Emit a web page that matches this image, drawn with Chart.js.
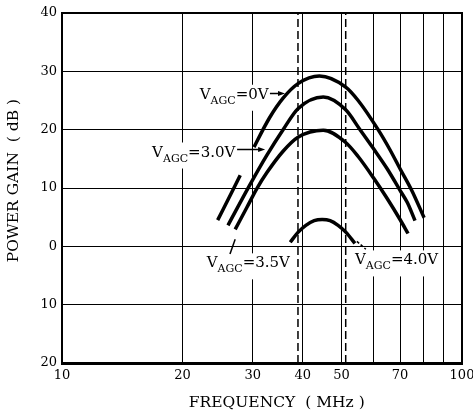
<!DOCTYPE html>
<html><head><meta charset="utf-8">
<script src="https://cdn.jsdelivr.net/npm/chart.js@4/dist/chart.umd.min.js"></script>
<style>html,body{margin:0;padding:0;background:#fff}canvas{display:block}</style>
</head><body>
<canvas id="c" width="473" height="413"></canvas>
<script>
// ---- tick values / labels ----
const xGridValues = [10, 20, 30, 40, 50, 60, 70, 80, 90, 100];
const xTickLabels = [10, 20, 30, 40, 50, 70, 100];
const yTickValues = [-20, -10, 0, 10, 20, 30, 40];
const yTickLabels = ['20', '10', '0', '10', '20', '30', '40'];

// ---- series (frequency MHz, power gain dB) ----
const seriesNames = ['0V', '3.0V', '3.5V', '4.0V'];
const freq0V  = [24.5, 26.9, 27.9, 30.2, 33.0, 35.7, 38.9, 44, 51.2, 55, 61.7, 66, 70, 75, 80.4];
const gain0V  = [4.5, 10, 12.2, 17.0, 22.0, 25.4, 27.9, 29.2, 27.3, 25.0, 20, 16.6, 13.3, 9.5, 4.9];
const freq30V = [26.0, 29.3, 32.5, 35.7, 38.9, 45, 51.2, 55.6, 60, 65, 70, 73, 76.3];
const gain30V = [3.6, 10.2, 15.6, 20.0, 23.6, 25.6, 23.4, 20.0, 16.8, 13.3, 9.6, 7.5, 4.4];
const freq35V = [27.1, 29.0, 30.7, 32.5, 35.7, 38.9, 45, 51.2, 55, 60, 65, 70, 73.3];
const gain35V = [2.9, 6.7, 9.9, 12.6, 16.3, 18.7, 19.9, 17.8, 15.4, 11.8, 8.2, 4.6, 2.2];
const freq40V = [37.2, 38.9, 40.7, 42.7, 44.7, 46.8, 49.0, 51.3, 54.0];
const gain40V = [0.7, 2.4, 3.6, 4.4, 4.6, 4.4, 3.6, 2.4, 0.5];
// dashed marker frequencies
const markerFreqs = [38.9, 51.2];
const gapAfterIndex0V = 2; // printed break in the 0V curve

const toPts = (f, g) => f.map((v, i) => ({x: v, y: g[i]}));

// ---- annotation placement (data coordinates) ----
const annotations = [
  {fx: 22.1, gy: 25.3, text: seriesNames[0], arrow: {from: 33.1, to: 36.1, gy: 26.2}},
  {fx: 16.8, gy: 15.4, text: seriesNames[1], arrow: {from: 27.4, to: 32.2, gy: 16.6}},
  {fx: 23.0, gy: -3.6, text: seriesNames[2], pointer: {x1: 26.3, y1: -1.3, x2: 27.1, y2: 1.2, dash: []}},
  {fx: 54.0, gy: -3.1, text: seriesNames[3], pointer: {x1: 54.6, y1: 0.85, x2: 57.5, y2: -0.5, dash: [3, 2]}}
];

const SERIF = '"DejaVu Serif", "Liberation Serif", serif';
const mainFont = '15px ' + SERIF;
const subFont = '11px ' + SERIF;

function labelWidth(ctx, t) {
  ctx.font = mainFont; const a = ctx.measureText('V').width + ctx.measureText('=' + t).width;
  ctx.font = subFont; return a + ctx.measureText('AGC').width;
}

const annotPlugin = {
  id: 'annot',
  beforeDraw(chart) {
    const c = chart.ctx; c.save(); c.fillStyle = '#fff'; c.fillRect(0, 0, chart.width, chart.height); c.restore();
  },
  beforeDatasetsDraw(chart) {
    const {ctx, scales: {x, y}} = chart;
    ctx.save(); ctx.fillStyle = '#fff';
    annotations.forEach(a => {
      const px = x.getPixelForValue(a.fx), py = y.getPixelForValue(a.gy);
      const w = labelWidth(ctx, a.text);
      ctx.fillRect(px - 4, py - 14, w + 8, 26);
    });
    ctx.restore();
  },
  afterDatasetsDraw(chart) {
    const {ctx, chartArea: ca, scales: {x, y}} = chart;
    ctx.save();
    ctx.strokeStyle = '#000'; ctx.lineWidth = 2;
    ctx.beginPath();
    ctx.moveTo(ca.left, ca.top); ctx.lineTo(ca.right, ca.top); ctx.lineTo(ca.right, ca.bottom);
    ctx.stroke();
    ctx.fillStyle = '#000'; ctx.textBaseline = 'alphabetic'; ctx.textAlign = 'left';
    annotations.forEach(a => {
      let px = x.getPixelForValue(a.fx); const py = y.getPixelForValue(a.gy);
      ctx.font = mainFont; ctx.fillText('V', px, py); px += ctx.measureText('V').width;
      ctx.font = subFont; ctx.fillText('AGC', px, py + 5); px += ctx.measureText('AGC').width;
      ctx.font = mainFont; ctx.fillText('=' + a.text, px, py);
      if (a.arrow) {
        const x1 = x.getPixelForValue(a.arrow.from), x2 = x.getPixelForValue(a.arrow.to), ay = y.getPixelForValue(a.arrow.gy);
        ctx.lineWidth = 1.5; ctx.beginPath(); ctx.moveTo(x1, ay); ctx.lineTo(x2 - 5, ay); ctx.stroke();
        ctx.beginPath(); ctx.moveTo(x2, ay); ctx.lineTo(x2 - 7, ay - 2.5); ctx.lineTo(x2 - 7, ay + 2.5); ctx.closePath(); ctx.fill();
      }
      if (a.pointer) {
        const p = a.pointer;
        ctx.lineWidth = 1.5; ctx.setLineDash(p.dash);
        ctx.beginPath(); ctx.moveTo(x.getPixelForValue(p.x1), y.getPixelForValue(p.y1));
        ctx.lineTo(x.getPixelForValue(p.x2), y.getPixelForValue(p.y2)); ctx.stroke();
        ctx.setLineDash([]);
      }
    });
    ctx.restore();
  }
};

const curveStyle = {borderColor: '#000', borderWidth: 3.5, pointRadius: 0, cubicInterpolationMode: 'monotone', fill: false};
const datasets = [
  Object.assign({label: seriesNames[0], data: toPts(freq0V, gain0V),
    segment: {borderColor: ctx => ctx.p0DataIndex === gapAfterIndex0V ? 'rgba(0,0,0,0)' : undefined}}, curveStyle),
  Object.assign({label: seriesNames[1], data: toPts(freq30V, gain30V)}, curveStyle),
  Object.assign({label: seriesNames[2], data: toPts(freq35V, gain35V)}, curveStyle),
  Object.assign({label: seriesNames[3], data: toPts(freq40V, gain40V)}, curveStyle),
].concat(markerFreqs.map(f => ({
  label: 'marker ' + f, data: [{x: f, y: yTickValues[0]}, {x: f, y: yTickValues[yTickValues.length - 1]}],
  borderColor: '#000', borderWidth: 1.5, borderDash: [8, 4], pointRadius: 0, tension: 0
})));

const tickFont = {family: SERIF, size: 13};
new Chart(document.getElementById('c'), {
  type: 'line',
  data: {datasets},
  plugins: [annotPlugin],
  options: {
    responsive: false, animation: false, devicePixelRatio: 1,
    layout: {padding: {top: 13, right: 11, left: 0, bottom: 0}},
    plugins: {legend: {display: false}, tooltip: {enabled: false}},
    scales: {
      x: {
        type: 'logarithmic', min: 10, max: 100,
        afterBuildTicks: s => { s.ticks = xGridValues.map(v => ({value: v})); },
        afterFit: s => { s.height = 50; s.paddingLeft = 0; s.paddingRight = 0; },
        ticks: {autoSkip: false, maxRotation: 0, padding: 5, color: '#000', font: tickFont,
          callback: v => xTickLabels.includes(v) ? String(v) : ''},
        grid: {color: '#000', lineWidth: 1, drawTicks: false},
        border: {color: '#000', width: 3},
        title: {display: true, text: '      FREQUENCY  ( MHz )', color: '#000',
          font: {family: SERIF, size: 15.5}, padding: {top: 0, bottom: 1}}
      },
      y: {
        type: 'linear', min: -20, max: 40,
        afterBuildTicks: s => { s.ticks = yTickValues.map(v => ({value: v})); },
        afterFit: s => { s.width = 62; },
        ticks: {padding: 5, color: '#000', font: tickFont,
          callback: v => yTickLabels[yTickValues.indexOf(v)]},
        grid: {color: '#000', lineWidth: 1, drawTicks: false},
        border: {color: '#000', width: 2},
        title: {display: true, text: '   POWER GAIN  ( dB )', color: '#000',
          font: {family: SERIF, size: 15.5}, padding: {top: 5, bottom: 0}}
      }
    }
  }
});
</script>
</body></html>
